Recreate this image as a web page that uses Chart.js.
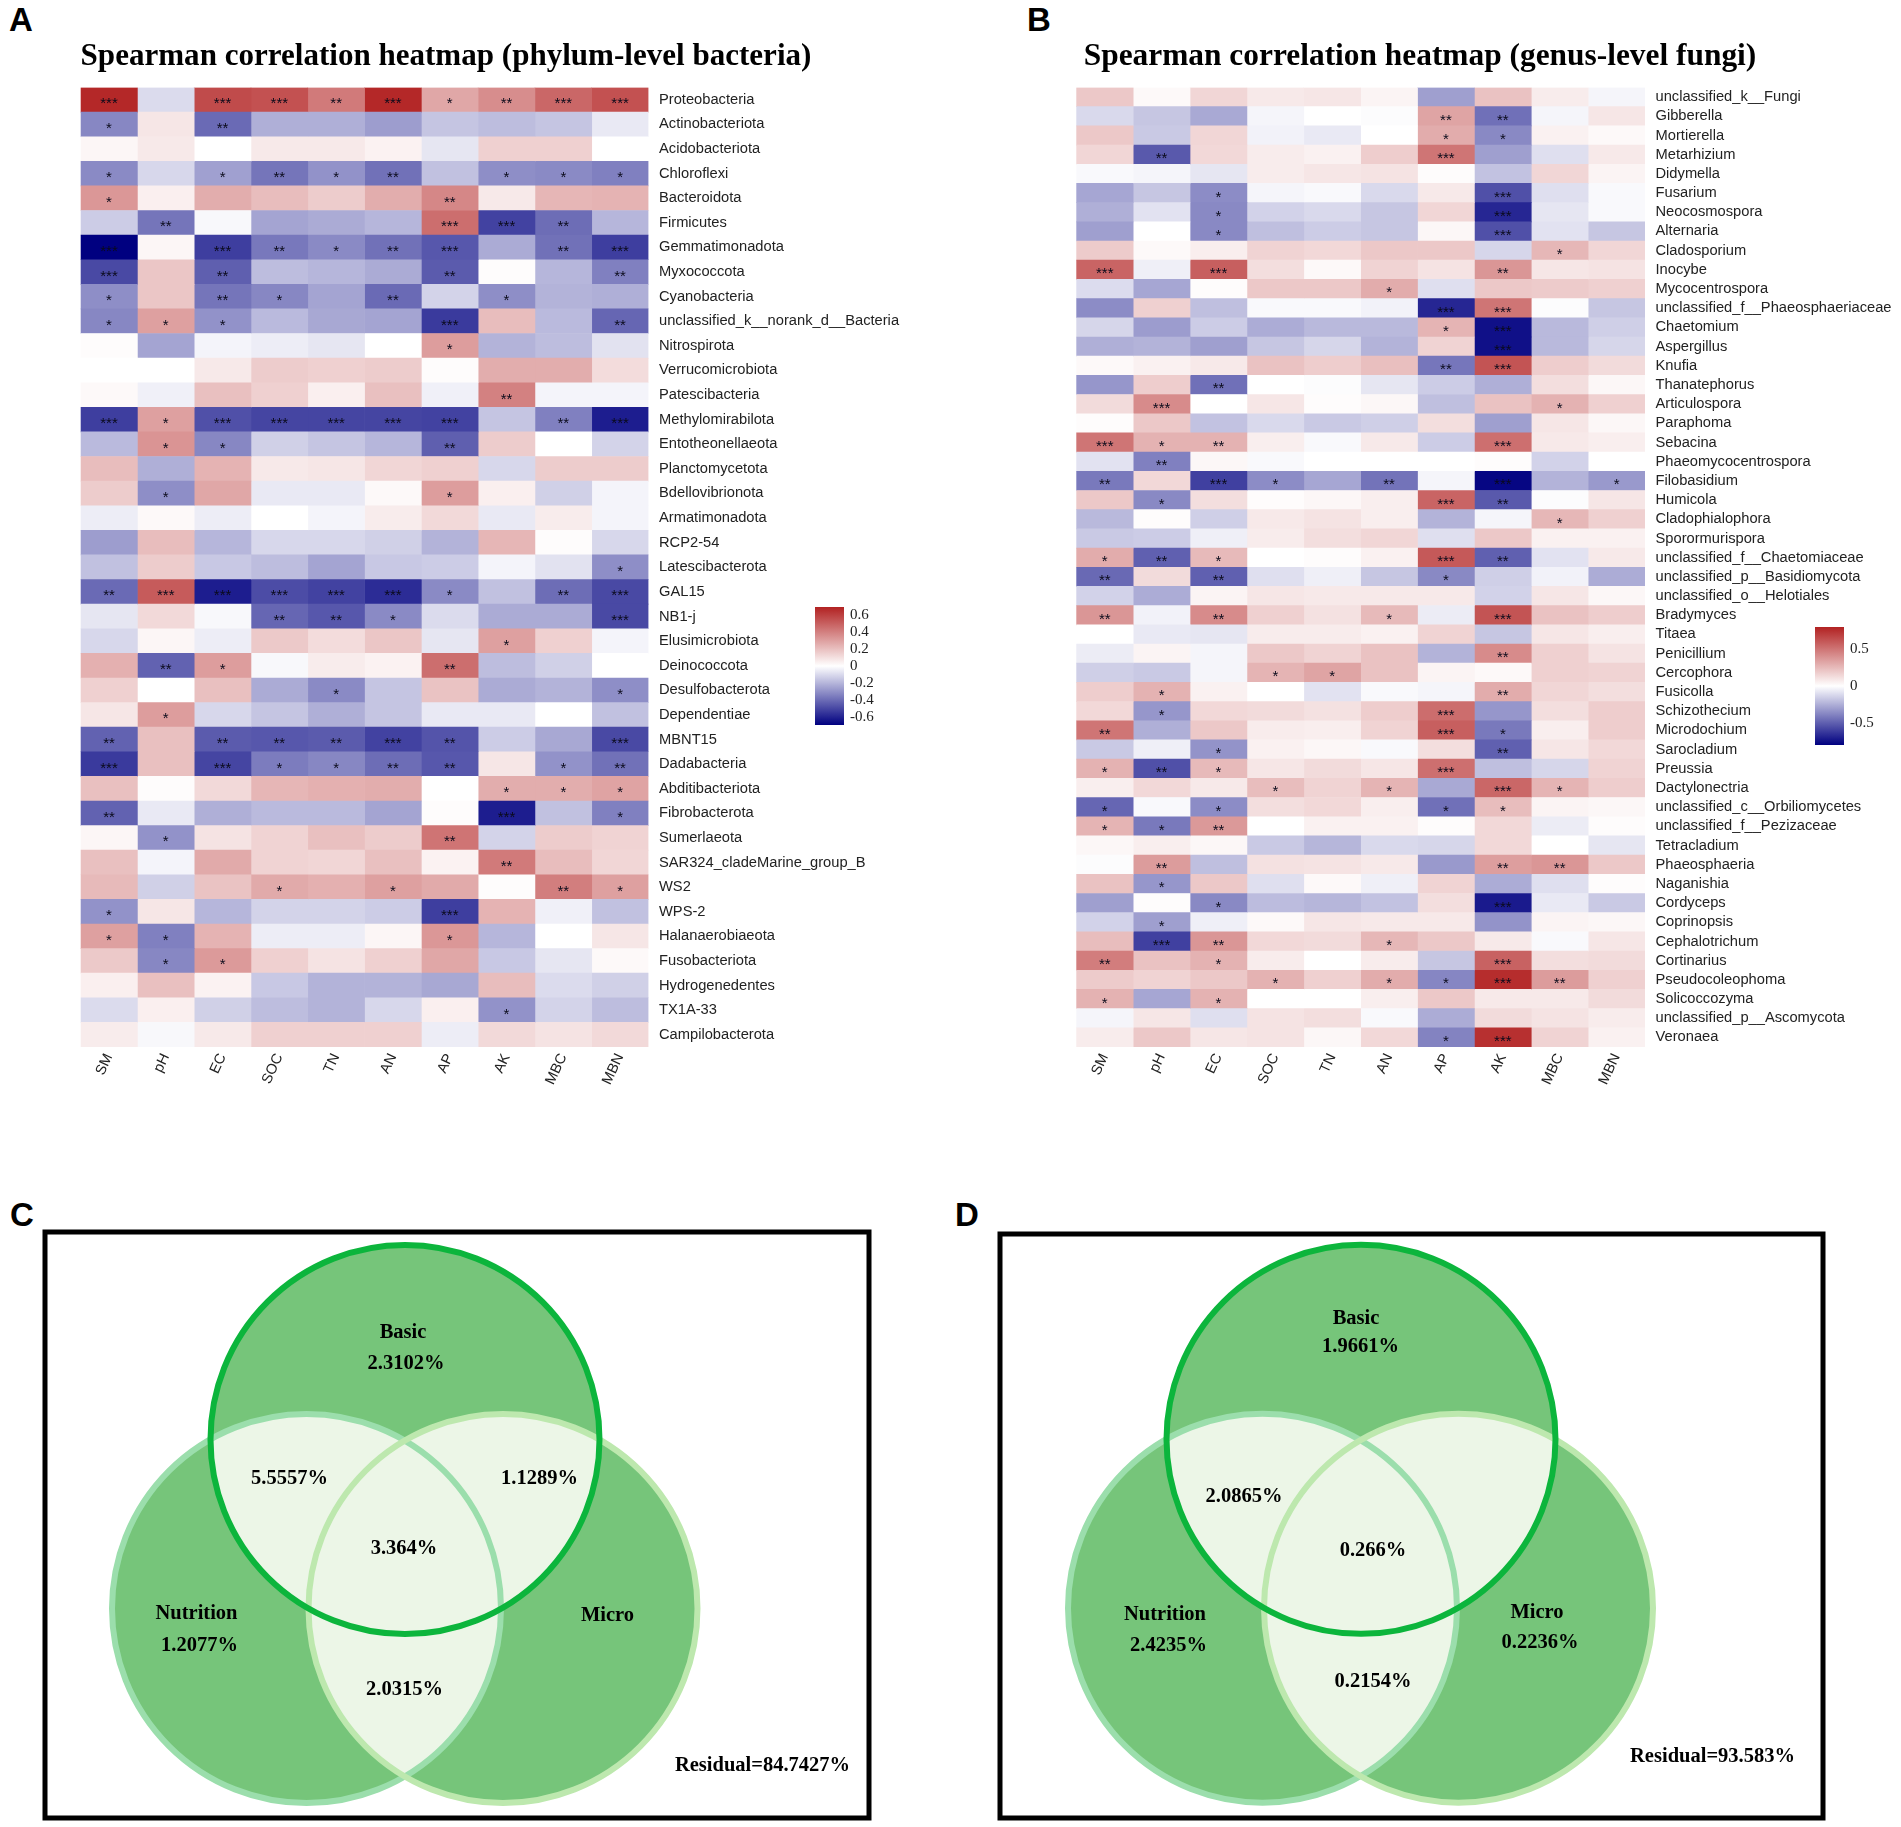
<!DOCTYPE html>
<html lang="en">
<head>
<meta charset="UTF-8">
<title>Spearman correlation heatmaps and variance partitioning</title>
<script src="https://cdn.jsdelivr.net/npm/chart.js@4"></script>
<style>
    html, body { margin: 0; padding: 0; background: #fff; }
    #page { position: relative; width: 1901px; height: 1827px; overflow: hidden; }
    canvas { position: absolute; }
    .letter { position: absolute; font: bold 33px 'Liberation Sans'; line-height: 33px; color: #000; }
</style>
</head>
<body>
<div id="page">
    <div class="letter" style="left:9px;top:3px">A</div>
    <div class="letter" style="left:1027px;top:3px">B</div>
    <div class="letter" style="left:10px;top:1198px">C</div>
    <div class="letter" style="left:955px;top:1198px">D</div>
    <canvas id="heatA" width="950" height="1130" style="left:0;top:0"></canvas>
    <canvas id="heatB" width="951" height="1130" style="left:950px;top:0"></canvas>
    <canvas id="barA" width="80" height="142" style="left:805px;top:595px"></canvas>
    <canvas id="barB" width="80" height="142" style="left:1805px;top:615px"></canvas>
    <canvas id="vennC" width="844" height="606" style="left:34.5px;top:1221.5px"></canvas>
    <canvas id="vennD" width="843" height="604.5" style="left:989.5px;top:1223.5px"></canvas>
</div>

<script>
const envVars = ['SM', 'pH', 'EC', 'SOC', 'TN', 'AN', 'AP', 'AK', 'MBC', 'MBN'];

const phylumNames = ['Proteobacteria', 'Actinobacteriota', 'Acidobacteriota', 'Chloroflexi', 'Bacteroidota', 'Firmicutes',
    'Gemmatimonadota', 'Myxococcota', 'Cyanobacteria', 'unclassified_k__norank_d__Bacteria', 'Nitrospirota',
    'Verrucomicrobiota', 'Patescibacteria', 'Methylomirabilota', 'Entotheonellaeota', 'Planctomycetota',
    'Bdellovibrionota', 'Armatimonadota', 'RCP2-54', 'Latescibacterota', 'GAL15', 'NB1-j', 'Elusimicrobiota',
    'Deinococcota', 'Desulfobacterota', 'Dependentiae', 'MBNT15', 'Dadabacteria', 'Abditibacteriota', 'Fibrobacterota',
    'Sumerlaeota', 'SAR324_cladeMarine_group_B', 'WS2', 'WPS-2', 'Halanaerobiaeota', 'Fusobacteriota',
    'Hydrogenedentes', 'TX1A-33', 'Campilobacterota'];

const phylumCorr = [
    [.68, -.10, .57, .55, .42, .68, .28, .36, .48, .55],
    [-.33, .08, -.41, -.22, -.22, -.27, -.16, -.18, -.16, -.06],
    [.03, .07, 0, .07, .07, .04, -.07, .15, .15, 0],
    [-.32, -.11, -.26, -.38, -.30, -.39, -.17, -.31, -.32, -.35],
    [.33, .05, .26, .21, .16, .26, .38, .07, .23, .24],
    [-.14, -.38, -.02, -.25, -.23, -.20, .46, -.52, -.40, -.20],
    [-.70, .03, -.53, -.37, -.32, -.39, -.46, -.23, -.39, -.53],
    [-.50, .18, -.44, -.18, -.20, -.23, -.45, .01, -.20, -.35],
    [-.31, .18, -.38, -.33, -.25, -.41, -.12, -.31, -.21, -.22],
    [-.33, .30, -.30, -.19, -.24, -.25, -.54, .21, -.19, -.42],
    [.01, -.25, -.03, -.05, -.07, 0, .31, -.21, -.18, -.08],
    [0, 0, .07, .16, .15, .16, .01, .26, .26, .11],
    [.02, -.04, .20, .15, .05, .20, -.04, .40, -.03, -.03],
    [-.53, .30, -.48, -.51, -.51, -.51, -.52, -.16, -.35, -.62],
    [-.19, .34, -.33, -.13, -.16, -.20, -.44, .16, 0, -.12],
    [.21, -.22, .24, .07, .08, .13, .15, -.11, .16, .16],
    [.16, -.31, .28, -.06, -.06, .02, .31, .05, -.13, -.03],
    [-.05, .02, -.05, 0, -.03, .06, .12, -.06, .06, -.03],
    [-.27, .21, -.20, -.11, -.11, -.13, -.21, .23, .01, -.11],
    [-.17, .16, -.15, -.18, -.25, -.15, -.14, -.03, -.08, -.31],
    [-.41, .52, -.62, -.49, -.52, -.58, -.32, -.17, -.40, -.50],
    [-.07, .12, -.02, -.42, -.46, -.32, -.10, -.23, -.23, -.50],
    [-.11, .03, -.05, .17, .11, .18, -.07, .30, .15, -.03],
    [.25, -.43, .31, -.02, .06, .04, .46, -.18, -.13, 0],
    [.15, 0, .20, -.23, -.32, -.16, .19, -.23, -.21, -.31],
    [.08, .31, -.11, -.16, -.22, -.16, -.06, -.06, 0, -.17],
    [-.43, .20, -.45, -.46, -.45, -.52, -.47, -.14, -.24, -.50],
    [-.54, .20, -.51, -.36, -.33, -.40, -.46, .08, -.30, -.39],
    [.20, .01, .12, .23, .25, .26, 0, .26, .26, .29],
    [-.43, -.06, -.22, -.19, -.19, -.25, .01, -.62, -.17, -.35],
    [.03, -.30, .09, .14, .20, .16, .44, -.12, .16, .14],
    [.20, -.03, .27, .14, .13, .20, .04, .42, .21, .13],
    [.22, -.13, .19, .27, .25, .30, .27, .01, .41, .30],
    [-.30, .08, -.20, -.12, -.12, -.14, -.53, .24, -.04, -.17],
    [.30, -.35, .24, -.05, -.05, .03, .33, -.20, 0, .08],
    [.17, -.33, .32, .15, .09, .15, .28, -.15, -.07, .02],
    [.05, .20, .04, -.15, -.21, -.21, -.24, .21, -.10, -.13],
    [-.10, .05, -.13, -.18, -.21, -.11, .05, -.30, -.12, -.18],
    [.06, -.02, .07, .15, .15, .15, -.05, .12, .09, .12]
];

// number of asterisks per cell
const phylumSig = [
    [3, 0, 3, 3, 2, 3, 1, 2, 3, 3], [1, 0, 2, 0, 0, 0, 0, 0, 0, 0], [0, 0, 0, 0, 0, 0, 0, 0, 0, 0],
    [1, 0, 1, 2, 1, 2, 0, 1, 1, 1], [1, 0, 0, 0, 0, 0, 2, 0, 0, 0], [0, 2, 0, 0, 0, 0, 3, 3, 2, 0],
    [3, 0, 3, 2, 1, 2, 3, 0, 2, 3], [3, 0, 2, 0, 0, 0, 2, 0, 0, 2], [1, 0, 2, 1, 0, 2, 0, 1, 0, 0],
    [1, 1, 1, 0, 0, 0, 3, 0, 0, 2], [0, 0, 0, 0, 0, 0, 1, 0, 0, 0], [0, 0, 0, 0, 0, 0, 0, 0, 0, 0],
    [0, 0, 0, 0, 0, 0, 0, 2, 0, 0], [3, 1, 3, 3, 3, 3, 3, 0, 2, 3], [0, 1, 1, 0, 0, 0, 2, 0, 0, 0],
    [0, 0, 0, 0, 0, 0, 0, 0, 0, 0], [0, 1, 0, 0, 0, 0, 1, 0, 0, 0], [0, 0, 0, 0, 0, 0, 0, 0, 0, 0],
    [0, 0, 0, 0, 0, 0, 0, 0, 0, 0], [0, 0, 0, 0, 0, 0, 0, 0, 0, 1], [2, 3, 3, 3, 3, 3, 1, 0, 2, 3],
    [0, 0, 0, 2, 2, 1, 0, 0, 0, 3], [0, 0, 0, 0, 0, 0, 0, 1, 0, 0], [0, 2, 1, 0, 0, 0, 2, 0, 0, 0],
    [0, 0, 0, 0, 1, 0, 0, 0, 0, 1], [0, 1, 0, 0, 0, 0, 0, 0, 0, 0], [2, 0, 2, 2, 2, 3, 2, 0, 0, 3],
    [3, 0, 3, 1, 1, 2, 2, 0, 1, 2], [0, 0, 0, 0, 0, 0, 0, 1, 1, 1], [2, 0, 0, 0, 0, 0, 0, 3, 0, 1],
    [0, 1, 0, 0, 0, 0, 2, 0, 0, 0], [0, 0, 0, 0, 0, 0, 0, 2, 0, 0], [0, 0, 0, 1, 0, 1, 0, 0, 2, 1],
    [1, 0, 0, 0, 0, 0, 3, 0, 0, 0], [1, 1, 0, 0, 0, 0, 1, 0, 0, 0], [0, 1, 1, 0, 0, 0, 0, 0, 0, 0],
    [0, 0, 0, 0, 0, 0, 0, 0, 0, 0], [0, 0, 0, 0, 0, 0, 0, 1, 0, 0], [0, 0, 0, 0, 0, 0, 0, 0, 0, 0]
];

const genusNames = ['unclassified_k__Fungi', 'Gibberella', 'Mortierella', 'Metarhizium', 'Didymella', 'Fusarium',
    'Neocosmospora', 'Alternaria', 'Cladosporium', 'Inocybe', 'Mycocentrospora', 'unclassified_f__Phaeosphaeriaceae',
    'Chaetomium', 'Aspergillus', 'Knufia', 'Thanatephorus', 'Articulospora', 'Paraphoma', 'Sebacina',
    'Phaeomycocentrospora', 'Filobasidium', 'Humicola', 'Cladophialophora', 'Sporormurispora',
    'unclassified_f__Chaetomiaceae', 'unclassified_p__Basidiomycota', 'unclassified_o__Helotiales', 'Bradymyces',
    'Titaea', 'Penicillium', 'Cercophora', 'Fusicolla', 'Schizothecium', 'Microdochium', 'Sarocladium', 'Preussia',
    'Dactylonectria', 'unclassified_c__Orbiliomycetes', 'unclassified_f__Pezizaceae', 'Tetracladium', 'Phaeosphaeria',
    'Naganishia', 'Cordyceps', 'Coprinopsis', 'Cephalotrichum', 'Cortinarius', 'Pseudocoleophoma', 'Solicoccozyma',
    'unclassified_p__Ascomycota', 'Veronaea'];

const genusCorr = [
    [.20, .02, .15, .08, .09, .04, -.30, .22, .07, -.03],
    [-.12, -.18, -.27, -.03, 0, -.01, .33, -.45, -.03, .09],
    [.20, -.17, .15, -.04, -.07, 0, .30, -.37, .05, .02],
    [.15, -.52, .14, .07, .05, .18, .50, -.30, -.10, .08],
    [-.02, -.03, -.08, .07, .09, .10, .01, -.19, .15, .04],
    [-.28, -.18, -.36, -.03, -.02, -.12, .08, -.55, -.10, -.02],
    [-.25, -.09, -.37, -.14, -.12, -.18, .15, -.68, -.08, -.02],
    [-.30, 0, -.37, -.20, -.16, -.18, .03, -.55, -.09, -.18],
    [.19, .02, .06, .16, .14, .20, .20, -.13, .26, .15],
    [.56, -.05, .58, .12, .02, .16, .10, .38, .09, .10],
    [-.11, -.28, .01, .20, .20, .30, -.10, .20, .19, .17],
    [-.36, .17, -.20, -.02, -.02, -.04, -.68, .50, -.01, -.18],
    [-.13, -.31, -.16, -.26, -.22, -.22, .27, -.75, -.22, -.15],
    [-.25, -.24, -.30, -.18, -.13, -.24, .16, -.75, -.22, -.13],
    [.02, .05, .08, .22, .18, .23, -.43, .62, .18, .13],
    [-.33, .18, -.45, 0, -.01, -.08, -.16, -.25, .12, .03],
    [.13, .42, 0, .09, .01, .03, -.20, .22, .28, .17],
    [.01, .20, -.19, -.12, -.17, -.15, .12, -.30, .09, .03],
    [.50, .28, .28, .06, -.02, .08, -.16, .52, .08, .06],
    [-.09, -.40, .03, -.02, 0, 0, 0, .01, -.14, 0],
    [-.42, .14, -.60, -.36, -.28, -.44, -.03, -.78, -.24, -.32],
    [.20, -.37, .12, .01, .03, .06, .56, -.52, -.01, .09],
    [-.22, .01, -.15, .08, .10, .06, -.24, -.03, .26, .17],
    [-.17, -.16, -.05, .07, .12, .15, -.10, .20, .05, .05],
    [.30, -.50, .25, 0, .01, .05, .60, -.50, -.09, .08],
    [-.47, .13, -.50, -.10, -.05, -.18, -.37, -.15, -.04, -.26],
    [-.14, -.26, .04, .09, .08, .08, .08, -.14, .09, .03],
    [.38, -.04, .42, .17, .11, .25, -.06, .62, .22, .18],
    [0, -.07, -.08, .07, .07, .05, .16, -.18, .09, .06],
    [-.06, .04, -.03, .20, .16, .22, -.24, .42, .17, .10],
    [-.15, -.17, -.03, .27, .33, .22, .04, .02, .17, .16],
    [.18, .28, .05, 0, -.09, -.02, -.03, .30, .15, .12],
    [.14, -.33, .14, .13, .11, .18, .53, -.33, .12, .18],
    [.50, -.25, .20, .07, .06, .16, .58, -.42, .06, .18],
    [-.17, -.05, -.34, .05, .03, -.02, .12, -.50, .09, .14],
    [.28, -.55, .25, .09, .13, .09, .52, -.20, -.13, .16],
    [.06, .14, .08, .24, .16, .27, -.27, .55, .27, .18],
    [-.48, -.02, -.36, .12, .14, .06, -.45, .24, .04, .03],
    [.27, -.42, .37, 0, .05, .05, .01, .14, -.06, .01],
    [.03, .06, .03, -.17, -.23, -.12, -.13, .14, 0, -.08],
    [-.01, .36, -.20, .11, .10, .08, -.32, .35, .38, .20],
    [.22, -.33, .20, -.10, .02, -.05, .16, -.26, -.10, .01],
    [-.30, .01, -.37, -.21, -.23, -.19, .12, -.72, -.07, -.17],
    [-.14, -.30, -.05, .02, .09, .08, .08, -.34, .04, .03],
    [.24, -.60, .38, .14, .13, .26, .20, .08, -.02, .09],
    [.47, .22, .28, .07, 0, .07, -.18, .57, .12, .13],
    [.19, .16, .20, .28, .17, .30, -.38, .76, .36, .17],
    [.28, -.28, .28, 0, 0, .06, .20, .08, .08, .13],
    [-.03, .09, -.10, .10, .12, -.02, -.26, .13, .10, .07],
    [.07, .20, .09, .10, .03, .14, -.39, .75, .16, .05]
];

const genusSig = [
    [0, 0, 0, 0, 0, 0, 0, 0, 0, 0], [0, 0, 0, 0, 0, 0, 2, 2, 0, 0], [0, 0, 0, 0, 0, 0, 1, 1, 0, 0],
    [0, 2, 0, 0, 0, 0, 3, 0, 0, 0], [0, 0, 0, 0, 0, 0, 0, 0, 0, 0], [0, 0, 1, 0, 0, 0, 0, 3, 0, 0],
    [0, 0, 1, 0, 0, 0, 0, 3, 0, 0], [0, 0, 1, 0, 0, 0, 0, 3, 0, 0], [0, 0, 0, 0, 0, 0, 0, 0, 1, 0],
    [3, 0, 3, 0, 0, 0, 0, 2, 0, 0], [0, 0, 0, 0, 0, 1, 0, 0, 0, 0], [0, 0, 0, 0, 0, 0, 3, 3, 0, 0],
    [0, 0, 0, 0, 0, 0, 1, 3, 0, 0], [0, 0, 0, 0, 0, 0, 0, 3, 0, 0], [0, 0, 0, 0, 0, 0, 2, 3, 0, 0],
    [0, 0, 2, 0, 0, 0, 0, 0, 0, 0], [0, 3, 0, 0, 0, 0, 0, 0, 1, 0], [0, 0, 0, 0, 0, 0, 0, 0, 0, 0],
    [3, 1, 2, 0, 0, 0, 0, 3, 0, 0], [0, 2, 0, 0, 0, 0, 0, 0, 0, 0], [2, 0, 3, 1, 0, 2, 0, 3, 0, 1],
    [0, 1, 0, 0, 0, 0, 3, 2, 0, 0], [0, 0, 0, 0, 0, 0, 0, 0, 1, 0], [0, 0, 0, 0, 0, 0, 0, 0, 0, 0],
    [1, 2, 1, 0, 0, 0, 3, 2, 0, 0], [2, 0, 2, 0, 0, 0, 1, 0, 0, 0], [0, 0, 0, 0, 0, 0, 0, 0, 0, 0],
    [2, 0, 2, 0, 0, 1, 0, 3, 0, 0], [0, 0, 0, 0, 0, 0, 0, 0, 0, 0], [0, 0, 0, 0, 0, 0, 0, 2, 0, 0],
    [0, 0, 0, 1, 1, 0, 0, 0, 0, 0], [0, 1, 0, 0, 0, 0, 0, 2, 0, 0], [0, 1, 0, 0, 0, 0, 3, 0, 0, 0],
    [2, 0, 0, 0, 0, 0, 3, 1, 0, 0], [0, 0, 1, 0, 0, 0, 0, 2, 0, 0], [1, 2, 1, 0, 0, 0, 3, 0, 0, 0],
    [0, 0, 0, 1, 0, 1, 0, 3, 1, 0], [1, 0, 1, 0, 0, 0, 1, 1, 0, 0], [1, 1, 2, 0, 0, 0, 0, 0, 0, 0],
    [0, 0, 0, 0, 0, 0, 0, 0, 0, 0], [0, 2, 0, 0, 0, 0, 0, 2, 2, 0], [0, 1, 0, 0, 0, 0, 0, 0, 0, 0],
    [0, 0, 1, 0, 0, 0, 0, 3, 0, 0], [0, 1, 0, 0, 0, 0, 0, 0, 0, 0], [0, 3, 2, 0, 0, 1, 0, 0, 0, 0],
    [2, 0, 1, 0, 0, 0, 0, 3, 0, 0], [0, 0, 0, 1, 0, 1, 1, 3, 2, 0], [1, 0, 1, 0, 0, 0, 0, 0, 0, 0],
    [0, 0, 0, 0, 0, 0, 0, 0, 0, 0], [0, 0, 0, 0, 0, 0, 1, 3, 0, 0]
];

const colorbarTicksA = [-0.6, -0.4, -0.2, 0, 0.2, 0.4, 0.6];
const colorbarTicksB = [-0.5, 0, 0.5];

const vennSets = ['Basic', 'Nutrition', 'Micro'];
const vennTextC = ['Basic', '2.3102%', '5.5557%', '1.1289%', '3.364%', 'Nutrition', '1.2077%', 'Micro', '2.0315%', 'Residual=84.7427%'];
const vennTextD = ['Basic', '1.9661%', '2.0865%', '0.266%', 'Nutrition', '2.4235%', 'Micro', '0.2236%', '0.2154%', 'Residual=93.583%'];

// layout of the venn panels, in pixels from the top left of the frame
const vennCirclesC = [[360, 207.5], [261.5, 376.5], [458, 376.5]];
const vennCirclesD = [[361, 205.5], [262.5, 374.5], [458.5, 374.5]];
const vennRadius = 194.5;
const vennTextPosC = [[358, 100.5], [361, 131.5], [244.5, 246.5], [494.5, 246.5], [359, 316.5], [151.5, 381.5], [154.5, 413.5], [562.5, 383.5], [359.5, 457.5], [717.5, 534]];
const vennTextPosD = [[356, 85], [360.5, 112.5], [244, 262.5], [373, 317], [165, 381.5], [168.5, 412], [537, 379.5], [540, 409], [373, 448.5], [712.5, 523]];

const NAVY = [0, 0, 128];
const FIREBRICK = [178, 34, 34];

function cellColor(v, limit) {
    const f = Math.min(Math.abs(v) / limit, 1);
    const end = v < 0 ? NAVY : FIREBRICK;
    const c = end.map(e => Math.round(255 + (e - 255) * f));
    return `rgb(${c[0]},${c[1]},${c[2]})`;
}

// asterisks on top of the cells
const starsPlugin = {
    id: 'stars',
    // the axis box stops short of the long taxon names, do not let it clip them
    beforeDraw(chart) {
        chart.scales.y.right = chart.width;
    },
    afterDatasetsDraw(chart, args, opts) {
        const ctx = chart.ctx;
        ctx.save();
        ctx.font = '15px "Liberation Sans"';
        ctx.fillStyle = '#0a0a1a';
        ctx.textAlign = 'center';
        ctx.textBaseline = 'alphabetic';
        chart.data.datasets.forEach((ds, col) => {
            chart.getDatasetMeta(col).data.forEach((bar, row) => {
                const n = opts.levels[row][col];
                if (!n) return;
                const p = bar.getCenterPoint();
                ctx.fillText('*'.repeat(n), p.x, p.y + 8.5);
            });
        });
        ctx.restore();
    }
};

function heatmap(id, rows, corr, sig, limit, title, plot) {
    const datasets = envVars.map((name, col) => ({
        label: name,
        data: rows.map(() => [col, col + 1]),
        backgroundColor: corr.map(r => cellColor(r[col], limit)),
        borderWidth: 0,
        barPercentage: 1,
        categoryPercentage: 1,
        grouped: false
    }));
    return new Chart(document.getElementById(id), {
        type: 'bar',
        data: { labels: rows, datasets },
        plugins: [starsPlugin],
        options: {
            indexAxis: 'y',
            responsive: false,
            animation: false,
            events: [],
            layout: { padding: { left: plot.left, right: plot.right, top: 0, bottom: 0 } },
            plugins: {
                legend: { display: false },
                tooltip: { enabled: false },
                stars: { levels: sig },
                title: {
                    display: true,
                    text: title,
                    color: '#000',
                    font: { family: 'Liberation Serif', weight: 'bold', size: plot.titleSize, lineHeight: 1.2 },
                    padding: { top: plot.titleTop, bottom: plot.titleBottom }
                }
            },
            scales: {
                x: {
                    type: 'linear',
                    min: 0,
                    max: 10,
                    grid: { display: false, drawTicks: false },
                    border: { display: false },
                    afterBuildTicks: s => { s.ticks = envVars.map((n, i) => ({ value: i + 0.5 })); },
                    afterFit: s => { s.height = plot.xHeight; },
                    ticks: {
                        autoSkip: false,
                        minRotation: 65,
                        maxRotation: 65,
                        padding: 4,
                        color: '#222',
                        font: { family: 'Liberation Sans', size: 14.5 },
                        callback: v => envVars[v - 0.5]
                    }
                },
                y: {
                    position: 'right',
                    grid: { display: false, drawTicks: false },
                    border: { display: false },
                    afterFit: s => { s.width = plot.yWidth; },
                    ticks: {
                        autoSkip: false,
                        padding: 10.5,
                        color: '#222',
                        font: { family: 'Liberation Sans', size: 14.7 }
                    }
                }
            }
        }
    });
}

function colorbar(id, limit, tickValues) {
    return new Chart(document.getElementById(id), {
        type: 'bar',
        data: {
            labels: ['r'],
            datasets: [{
                data: [[-limit, limit]],
                barPercentage: 1,
                categoryPercentage: 1,
                borderWidth: 0,
                backgroundColor: c => {
                    const area = c.chart.chartArea;
                    if (!area) return '#fff';
                    const g = c.chart.ctx.createLinearGradient(0, area.bottom, 0, area.top);
                    g.addColorStop(0, 'rgb(0,0,128)');
                    g.addColorStop(0.5, '#fff');
                    g.addColorStop(1, 'rgb(178,34,34)');
                    return g;
                }
            }]
        },
        options: {
            responsive: false,
            animation: false,
            events: [],
            layout: { padding: { left: 10, right: 0, top: 8.6, bottom: 9.4 }, autoPadding: false },
            plugins: { legend: { display: false }, tooltip: { enabled: false } },
            scales: {
                x: { display: false },
                y: {
                    position: 'right',
                    min: -limit,
                    max: limit,
                    grid: { display: false, drawTicks: true, tickLength: 3, tickColor: '#555', drawOnChartArea: false },
                    border: { display: false },
                    afterBuildTicks: s => { s.ticks = tickValues.map(v => ({ value: v })); },
                    afterFit: s => { s.width = 41; },
                    ticks: {
                        autoSkip: false,
                        padding: 3,
                        color: '#222',
                        font: { family: 'Liberation Serif', size: 15 },
                        callback: v => String(v)
                    }
                }
            }
        }
    });
}

const vennPlugin = {
    id: 'venn',
    afterDatasetsDraw(chart, args, opts) {
        const ctx = chart.ctx;
        const pts = chart.getDatasetMeta(0).data;
        const circle = p => { ctx.beginPath(); ctx.arc(p.x, p.y, vennRadius, 0, Math.PI * 2); };

        // pale overlaps
        [[0, 1], [0, 2], [1, 2]].forEach(([a, b]) => {
            ctx.save();
            circle(pts[a]);
            ctx.clip();
            circle(pts[b]);
            ctx.fillStyle = '#ecf6e7';
            ctx.fill();
            ctx.restore();
        });

        // outlines, Basic on top
        [[1, '#9bdeac'], [2, '#bde8ae'], [0, '#0cb53c']].forEach(([i, color]) => {
            circle(pts[i]);
            ctx.lineWidth = 6;
            ctx.strokeStyle = color;
            ctx.stroke();
        });

        // frame
        const a = chart.chartArea;
        ctx.lineWidth = 5;
        ctx.strokeStyle = '#000';
        ctx.strokeRect(a.left, a.top, a.right - a.left, a.bottom - a.top);

        // region labels
        ctx.save();
        ctx.font = 'bold 20.5px "Liberation Serif"';
        ctx.fillStyle = '#000';
        ctx.textAlign = 'center';
        ctx.textBaseline = 'middle';
        opts.text.forEach((t, i) => {
            const [x, y] = opts.pos[i];
            ctx.fillText(t, chart.scales.x.getPixelForValue(x), chart.scales.y.getPixelForValue(y));
        });
        ctx.restore();
    }
};

function venn(id, circles, text, pos, w, h) {
    return new Chart(document.getElementById(id), {
        type: 'bubble',
        data: {
            datasets: [{
                label: vennSets.join(' / '),
                data: circles.map(c => ({ x: c[0], y: c[1], r: vennRadius })),
                backgroundColor: '#76c57a',
                borderWidth: 0
            }]
        },
        plugins: [vennPlugin],
        options: {
            responsive: false,
            animation: false,
            events: [],
            layout: { padding: 10, autoPadding: false },
            plugins: {
                legend: { display: false },
                tooltip: { enabled: false },
                venn: { text, pos }
            },
            scales: {
                x: { display: false, min: 0, max: w },
                y: { display: false, min: 0, max: h, reverse: true }
            }
        }
    });
}

heatmap('heatA', phylumNames, phylumCorr, phylumSig, 0.7, 'Spearman correlation heatmap (phylum-level bacteria)',
    { left: 80.6, right: 138.6, yWidth: 162.9, xHeight: 83, titleSize: 32, titleTop: 37.8, titleBottom: 11.3 });
heatmap('heatB', genusNames, genusCorr, genusSig, 0.8, 'Spearman correlation heatmap (genus-level fungi)',
    { left: 126.3, right: 137.3, yWidth: 118.7, xHeight: 83, titleSize: 31.4, titleTop: 38.15, titleBottom: 11.65 });
colorbar('barA', 0.7, colorbarTicksA);
colorbar('barB', 0.8, colorbarTicksB);
venn('vennC', vennCirclesC, vennTextC, vennTextPosC, 824, 586);
venn('vennD', vennCirclesD, vennTextD, vennTextPosD, 823, 584.5);
</script>
</body>
</html>
